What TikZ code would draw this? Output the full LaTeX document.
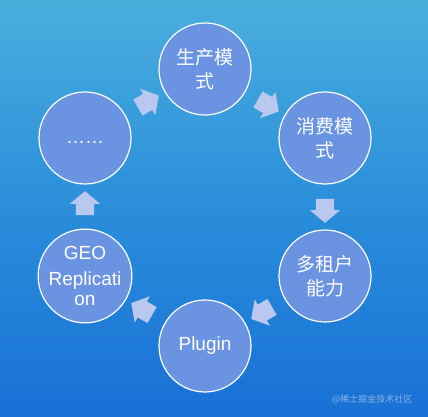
\documentclass[tikz,border=0pt]{standalone}
\usepackage{fontspec}
\setmainfont{Liberation Sans}
\newfontfamily\cjk{Noto Sans CJK SC}
\usetikzlibrary{shapes.arrows,calc}
\definecolor{bgtop}{HTML}{4AAEDD}
\definecolor{bgmid}{HTML}{2A8EDB}
\definecolor{bgbot}{HTML}{1870D5}
\definecolor{circfill}{HTML}{6A93E2}
\definecolor{arrfill}{HTML}{BAC7EF}
\definecolor{wmark}{HTML}{8FB2E2}
\tikzset{
  stage/.style={circle, minimum size=92pt, inner sep=0pt, fill=circfill,
    draw=white, line width=1.2pt, text=white, align=center,
    font=\fontsize{19}{24}\selectfont},
  stagetext/.style={text=white, font=\fontsize{19}{24}\selectfont, anchor=base, inner sep=0pt},
  blockarrow/.style={single arrow, fill=arrfill, draw=none, inner sep=0pt,
    inner ysep=9pt, minimum height=24pt, minimum width=0pt,
    single arrow head extend=6pt, single arrow tip angle=100, anchor=center}
}
\begin{document}
\begin{tikzpicture}[x=1pt,y=1pt]
\useasboundingbox (0,0) rectangle (428,417);
\shade[top color=bgtop, bottom color=bgbot, middle color=bgmid] (0,0) rectangle (428,417);
% circles
\node[stage] (A) at (205,348) {\cjk 生产模\\\cjk 式};
\node[stage] (B) at (325,279) {\cjk 消费模\\\cjk 式};
\node[stage] (C) at (325,141) {\cjk 多租户\\\cjk 能力};
\node[stage] (D) at (205,71) {Plugin};
\node[stage, font=\fontsize{19}{19.5}\selectfont] (E) at (85,141) {GEO\\[6.5pt]Replicati\\on};
\node[stage] (F) at (85,279) {};
\node[stagetext] (Fdots) at (85,273) {……};
% block arrows
\node[blockarrow, rotate=-30] (ab) at ($(A)!0.5!(B)$) {};
\node[blockarrow, rotate=-90] (bc) at ($(B)!0.5!(C)$) {};
\node[blockarrow, rotate=-150] (cd) at ($(C)!0.5!(D)$) {};
\node[blockarrow, rotate=150] (de) at ($(D)!0.5!(E)$) {};
\node[blockarrow, rotate=90] (ef) at ($(E)!0.5!(F)$) {};
\node[blockarrow, rotate=30] (fa) at ($(F)!0.5!(A)$) {};
% watermark
\node[text=wmark, font=\cjk\fontsize{9}{10}\selectfont, anchor=east] (wm) at (416,18) {@稀土掘金技术社区};
\end{tikzpicture}
\end{document}
